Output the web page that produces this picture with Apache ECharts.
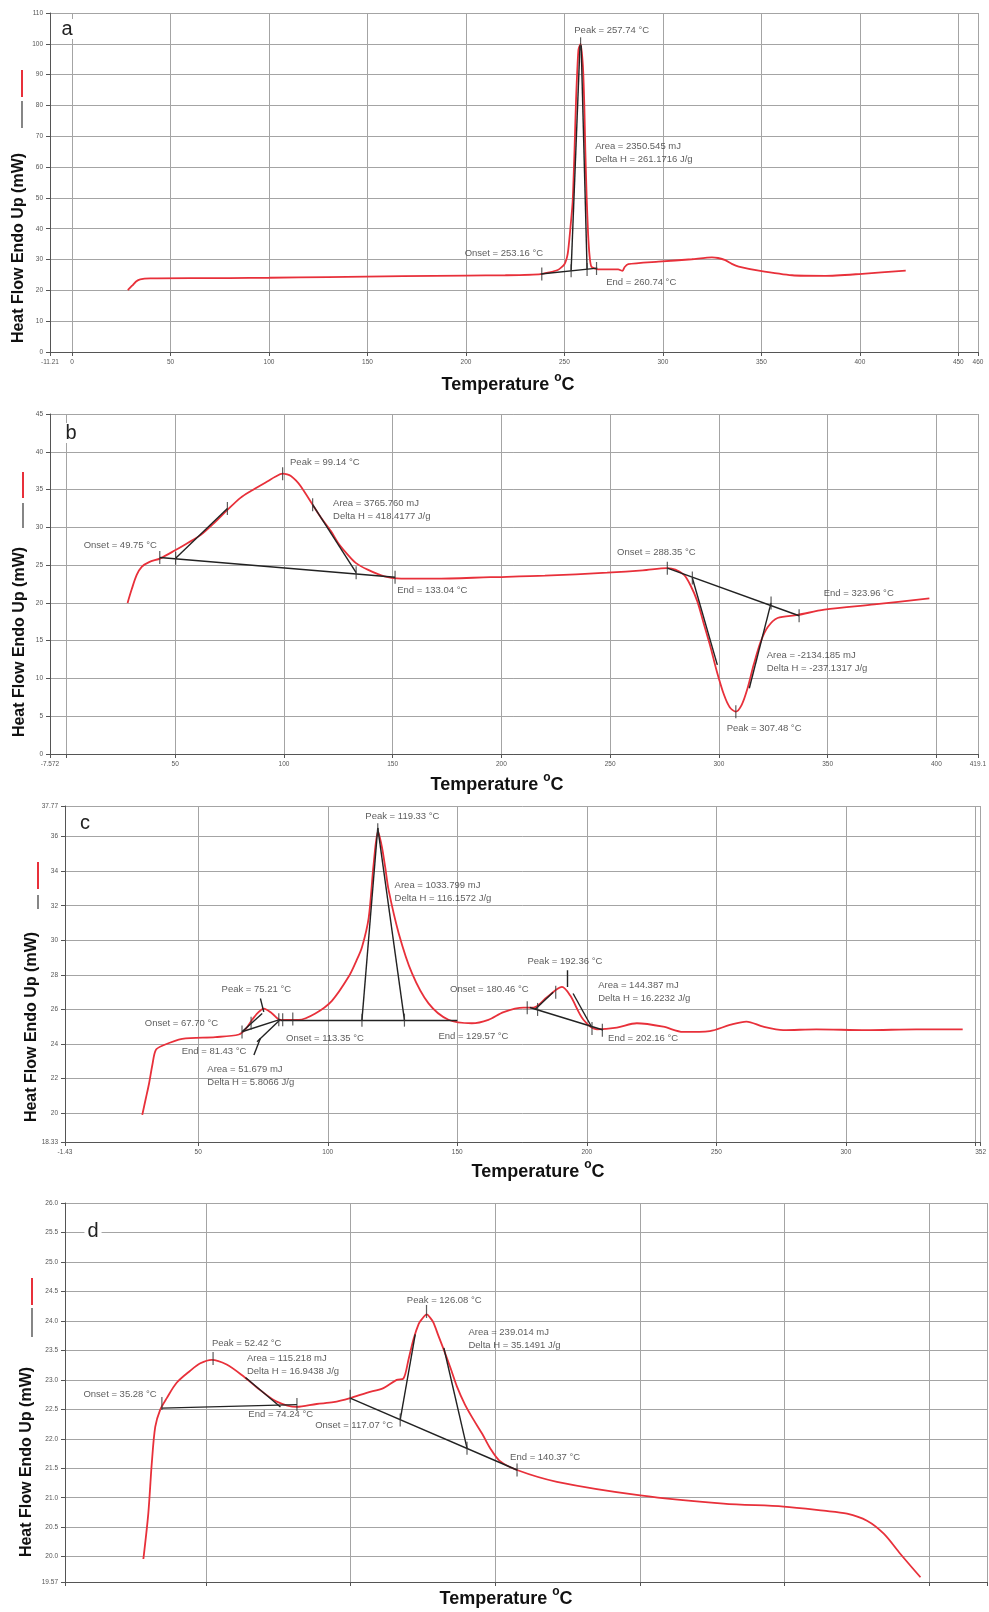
<!DOCTYPE html>
<html><head><meta charset="utf-8">
<script src="https://cdn.jsdelivr.net/npm/echarts@6/dist/echarts.min.js"></script>
<style>html,body{margin:0;padding:0;background:#fff}#c{width:989px;height:1612px}</style>
</head><body><div id="c"></div>
<script>
// ---------- Panel a ----------
const curveA = [[28.3,20.1],[30.5,21.5],[32.5,22.9],[34.6,23.6],[39.7,23.9],[60,24.0],[80,24.0],[100,24.1],[130,24.3],[168,24.6],[200,24.8],[220,24.9],[238,25.3],[246.6,26.6],[250,28.5],[251.7,32],[253,40],[254.2,49],[255.1,65],[255.9,81.8],[257.1,98],[258.2,100],[259.4,92.6],[260.1,80],[260.6,65.6],[261.3,50],[262,38.5],[262.8,31],[263.7,27.7],[267.1,26.8],[273,26.8],[277.3,26.8],[279.5,26.3],[280.5,27.5],[282.4,28.5],[297.7,29.3],[314.7,30.1],[324.9,30.7],[328,30.5],[331.7,29.8],[335,28.6],[338.5,27.7],[348.7,26.4],[365.6,24.9],[382.6,24.7],[399.6,25.3],[423.3,26.4]];
const constructA = [[238,25.3,266.7,27.2],[253.4,26.4,257.9,99.5],[258.5,99.5,261.5,26.8]];
const marksA = [[238.5,25.3],[253.4,26.4],[261.5,26.8],[266.3,27.1],[258.2,100]];
const notesA = [[255,104.5,'Peak = 257.74 °C','l'],[265.6,64.6,'Area = 2350.545 mJ\nDelta H = 261.1716 J/g','l'],[239.2,32.1,'Onset = 253.16 °C','r'],[271.2,22.7,'End = 260.74 °C','l']];
const xTicksA = [-11.21,0,50,100,150,200,250,300,350,400,450,460];
const xLabelsA = [-11.21,0,50,100,150,200,250,300,350,400,450,460];
const yTicksA = [0,10,20,30,40,50,60,70,80,90,100,110];

// ---------- Panel b ----------
const curveB = [[28.1,20.0],[30,21.8],[32.3,23.7],[34.7,24.8],[38,25.4],[43.2,25.9],[50.2,27.0],[55,27.8],[61.8,29.0],[68,30.6],[74,32.3],[80,33.9],[84.8,34.8],[92.5,36.1],[96,36.7],[99.4,37.1],[101.5,37.0],[103.2,36.8],[105.5,36.2],[107.8,35.4],[113.2,33.0],[117,31.3],[121.6,29.5],[125,27.9],[129.3,26.4],[133,25.3],[138.5,24.4],[146.2,23.5],[153.9,23.2],[169.2,23.2],[194.9,23.4],[220,23.6],[248.6,24.0],[265,24.3],[276.3,24.6],[280,24.4],[284,23.7],[287,22.3],[290.1,20.2],[293,17.3],[296.3,14.0],[299,11.0],[302.4,7.8],[305,6.2],[307.8,5.6],[310.5,6.5],[313.2,8.7],[316,11.8],[319.3,14.9],[322.5,16.8],[327,18.0],[336.2,18.4],[348.5,19.1],[371.5,19.8],[396.8,20.6]];
const constructB = [[42.9,26.0,151.1,23.4],[50.2,25.9,74.0,32.5],[113.2,33.0,133.2,24.0],[276.3,24.6,336.9,18.3],[287.8,23.3,299.3,11.8],[314,8.7,324,20.0]];
const marksB = [[42.9,26.0],[50.2,25.9],[74.0,32.5],[99.4,37.1],[113.2,33.0],[133.2,24.0],[151.1,23.4],[276.3,24.6],[287.8,23.3],[324,20.0],[336.9,18.3],[307.8,5.6]];
const notesB = [[102.8,38.55,'Peak = 99.14 °C','l'],[122.6,32.3,'Area = 3765.760 mJ\nDelta H = 418.4177 J/g','l'],[41.6,27.6,'Onset = 49.75 °C','r'],[152.1,21.7,'End = 133.04 °C','l'],[253.2,26.7,'Onset = 288.35 °C','l'],[348.2,21.2,'End = 323.96 °C','l'],[322,12.15,'Area = -2134.185 mJ\nDelta H = -237.1317 J/g','l'],[303.6,3.35,'Peak = 307.48 °C','l']];
const xTicksB = [-7.572,0,50,100,150,200,250,300,350,400,419.1];
const xLabelsB = [-7.572,50,100,150,200,250,300,350,400,419.1];
const yTicksB = [0,5,10,15,20,25,30,35,40,45];

// ---------- Panel c ----------
const curveC = [[28.4,19.9],[29.7,20.8],[31.0,21.7],[32.3,22.8],[33.6,23.65],[36.1,23.9],[43.8,24.3],[56.6,24.4],[65.7,24.55],[68.5,24.9],[70.8,25.4],[73,25.8],[75.3,26.05],[78.5,25.77],[81.7,25.4],[88.8,25.4],[95.2,25.77],[101.6,26.5],[108.1,27.9],[111,28.8],[113.2,29.6],[115.8,31.3],[117.7,34.4],[119.4,36.3],[120.9,35.4],[122.2,34.2],[123.5,32.9],[127.4,30.4],[132.5,28.1],[138.9,26.35],[146.6,25.4],[155.6,25.2],[162,25.4],[167.9,25.85],[175.6,26.1],[179.4,26.1],[184.6,26.7],[190.4,27.3],[193.6,26.8],[198.7,25.4],[203.9,24.85],[211.6,24.95],[219.3,25.2],[229.5,25.0],[237.2,24.7],[247.5,24.75],[255.2,25.1],[261.6,25.3],[268.1,25.0],[275.8,24.8],[288.6,24.85],[307.9,24.8],[327.1,24.85],[345.1,24.85]];
const constructC = [[66.9,24.71,81.7,25.42],[66.9,24.71,74.7,25.77],[72.7,24.13,81.7,25.42],[71.5,23.36,74.0,24.33],[74.0,26.63,75.3,25.86],[81.7,25.38,150,25.38],[113.2,25.38,119.3,36.5],[119.3,36.5,129.6,25.38],[178,26.11,206.3,24.81],[180,26.0,187,27.0],[192.4,28.27,192.4,27.3],[194.7,26.92,201.8,25.0]];
const marksC = [[66.9,24.7],[70.4,25.2],[81.1,25.4],[82.6,25.4],[86.5,25.45],[113.2,25.38],[119.3,36.4],[129.6,25.38],[177,26.1],[181,26.0],[188,27.0],[202,24.9],[206,24.8]];
const notesC = [[114.5,37.15,'Peak = 119.33 °C','l'],[125.8,32.83,'Area = 1033.799 mJ\nDelta H = 116.1572 J/g','l'],[59.0,27.15,'Peak = 75.21 °C','l'],[29.4,25.19,'Onset = 67.70 °C','l'],[43.6,23.55,'End = 81.43 °C','l'],[53.5,22.18,'Area = 51.679 mJ\nDelta H = 5.8066 J/g','l'],[83.9,24.33,'Onset = 113.35 °C','l'],[142.7,24.42,'End = 129.57 °C','l'],[147.2,27.15,'Onset = 180.46 °C','l'],[177.1,28.8,'Peak = 192.36 °C','l'],[204.4,27.02,'Area = 144.387 mJ\nDelta H = 16.2232 J/g','l'],[208.2,24.33,'End = 202.16 °C','l']];
const xTicksC = [-1.43,50,100,150,200,250,300,350,352];
const xLabelsC = [-1.43,50,100,150,200,250,300,352];
const yTicksC = [18.33,20,22,24,26,28,30,32,34,36,37.77];

// ---------- Panel d ----------
const curveD = [[28.3,19.96],[30.0,20.73],[31.2,21.58],[32.4,22.2],[34.1,22.49],[36.4,22.69],[39.8,22.95],[44.4,23.15],[48,23.28],[51.9,23.34],[57.1,23.26],[62.9,23.06],[68.6,22.83],[74.4,22.63],[81.3,22.54],[88.2,22.59],[94.0,22.62],[99.8,22.69],[105.5,22.78],[111.3,22.86],[115.9,23.0],[118.2,23.02],[120,23.35],[121.7,23.69],[123.5,23.95],[124.6,24.03],[126.3,24.11],[127.5,24.05],[128.6,23.97],[130.3,23.75],[132.1,23.52],[134.5,23.2],[136.7,22.89],[139.5,22.58],[142.5,22.32],[145.5,22.08],[148.2,21.84],[151.4,21.63],[157.5,21.47],[171.3,21.27],[200.1,21.04],[228.9,20.9],[249.7,20.85],[263.5,20.78],[271.6,20.73],[278.5,20.61],[284.3,20.39],[290,20.05],[297,19.65]];
const constructD = [[34.7,22.52,81.4,22.58],[63.6,23.04,75.7,22.54],[99.8,22.69,157.5,21.47],[117.1,22.32,122.3,23.77],[132.2,23.54,140.2,21.84]];
const marksD = [[34.7,22.6],[52.4,23.36],[81.4,22.58],[99.8,22.72],[117.1,22.32],[126.2,24.16],[140.2,21.84],[157.5,21.47]];
const notesD = [[32.9,22.75,'Onset = 35.28 °C','r'],[52.0,23.62,'Peak = 52.42 °C','l'],[64.1,23.26,'Area = 115.218 mJ\nDelta H = 16.9438 J/g','l'],[64.6,22.41,'End = 74.24 °C','l'],[87.7,22.22,'Onset = 117.07 °C','l'],[119.4,24.34,'Peak = 126.08 °C','l'],[140.7,23.69,'Area = 239.014 mJ\nDelta H = 35.1491 J/g','l'],[155.1,21.69,'End = 140.37 °C','l']];
const xTicksD = [1.2,50,100,150,200,250,300,320];
const yTicksD = [19.57,20,20.5,21,21.5,22,22.5,23,23.5,24,24.5,25,25.5,26];

const panelLetters = ['a','b','c','d'];
const yTitle = 'Heat Flow Endo Up (mW)';
const xTitle = 'Temperature ';

// ---------- build ----------
const FONT = '"Liberation Sans", Arial, sans-serif';
const RED = '#e8303a';
const GRIDC = '#a4a4a4';
const AXC = '#555';

const panels = [
  {curve:curveA, cons:constructA, marks:marksA, notes:notesA, xmin:-11.21, xmax:460, xt:xTicksA, xl:xLabelsA, ymin:0, ymax:110, yt:yTicksA, yfmt:v=>String(v), grid:{left:50, top:13, width:928, height:339}, smooth:0.2},
  {curve:curveB, cons:constructB, marks:marksB, notes:notesB, xmin:-7.572, xmax:419.1, xt:xTicksB, xl:xLabelsB, ymin:0, ymax:45, yt:yTicksB, yfmt:v=>String(v), grid:{left:50, top:414, width:928, height:340}, smooth:0.3},
  {curve:curveC, cons:constructC, marks:marksC, notes:notesC, xmin:-1.43, xmax:352, xt:xTicksC, xl:xLabelsC, ymin:18.33, ymax:37.77, yt:yTicksC, yfmt:v=>String(v), grid:{left:65, top:806, width:918, height:336}, smooth:0.3},
  {curve:curveD, cons:constructD, marks:marksD, notes:notesD, xmin:1.2, xmax:320, xt:xTicksD, xl:null, ymin:19.57, ymax:26, yt:yTicksD, yfmt:v=>(v===19.57?'19.57':v.toFixed(1)), grid:{left:65, top:1203, width:922, height:379}, smooth:0.3}
];

const grids=[], xAxes=[], yAxes=[], series=[];
panels.forEach((p,i)=>{
  grids.push(Object.assign({containLabel:false}, p.grid));
  xAxes.push({
    gridIndex:i, type:'value', min:p.xmin, max:p.xmax,
    axisLine:{onZero:false, lineStyle:{color:AXC, width:1}},
    axisTick:{show:true, customValues:p.xt, length:4, lineStyle:{color:AXC}},
    axisLabel: p.xl ? {show:true, customValues:p.xl, formatter:v=>String(v), fontSize:6.5, color:'#555', margin:7, fontFamily:FONT} : {show:false},
    splitLine:{show:true, lineStyle:{color:GRIDC, width:1}}
  });
  yAxes.push({
    gridIndex:i, type:'value', min:p.ymin, max:p.ymax,
    axisLine:{show:true, onZero:false, lineStyle:{color:AXC, width:1}},
    axisTick:{show:true, customValues:p.yt, length:4, lineStyle:{color:AXC}},
    axisLabel:{show:true, customValues:p.yt, formatter:p.yfmt, fontSize:6.5, color:'#555', margin:7, fontFamily:FONT},
    splitLine:{show:true, lineStyle:{color:GRIDC, width:1}}
  });
  series.push({
    type:'line', xAxisIndex:i, yAxisIndex:i, data:p.curve, showSymbol:false, symbol:'none',
    smooth:p.smooth, lineStyle:{color:RED, width:1.8}, z:3, silent:true
  });
  series.push({
    type:'lines', coordinateSystem:'cartesian2d', xAxisIndex:i, yAxisIndex:i,
    data:p.cons.map(s=>({coords:[[s[0],s[1]],[s[2],s[3]]]})),
    lineStyle:{color:'#222', width:1.4, opacity:1}, z:4, silent:true
  });
  series.push({
    type:'scatter', xAxisIndex:i, yAxisIndex:i, data:p.marks, symbol:'rect', symbolSize:[1.2,13],
    itemStyle:{color:'#333'}, z:5, silent:true
  });
  series.push({
    type:'scatter', xAxisIndex:i, yAxisIndex:i, symbolSize:0, z:6, silent:true,
    data:p.notes.map(n=>({value:[n[0],n[1]], label:{show:true, formatter:()=>n[2], align:n[3]==='r'?'right':'left'}})),
    label:{show:true, position:[0,0], verticalAlign:'middle', fontSize:9.5, color:'#333', lineHeight:13, fontFamily:FONT}
  });
});

const letterPos = [[67,29],[71,433],[85,823],[93,1231]];
const yTitlePos = [[19,248],[20,642],[32,1027],[27,1462]];
const legendPos = [[22,70,97,101,128],[23,472,498,503,528],[38,862,889,895,909],[32,1278,1305,1308,1337]];
const xTitlePos = [[508,383],[497,783],[538,1170],[506,1597]];

const graphic = [];
panelLetters.forEach((L,i)=>{
  graphic.push({type:'text', x:letterPos[i][0], y:letterPos[i][1], z:10,
    style:{text:L, font:'20px '+FONT, fill:'#222', align:'center', verticalAlign:'middle', backgroundColor:'#fff', padding:[0,3]}});
  graphic.push({type:'text', x:yTitlePos[i][0], y:yTitlePos[i][1], rotation:Math.PI/2, z:10,
    style:{text:yTitle, font:'bold 16px '+FONT, fill:'#111', align:'center', verticalAlign:'middle'}});
  const lg = legendPos[i];
  graphic.push({type:'line', z:10, shape:{x1:lg[0],y1:lg[1],x2:lg[0],y2:lg[2]}, style:{stroke:RED, lineWidth:2}});
  graphic.push({type:'line', z:10, shape:{x1:lg[0],y1:lg[3],x2:lg[0],y2:lg[4]}, style:{stroke:'#444', lineWidth:1.3}});
  graphic.push({type:'text', x:xTitlePos[i][0], y:xTitlePos[i][1], z:10,
    style:{text:'{t|'+xTitle+'}{s|o}{t|C}', align:'center', verticalAlign:'middle',
      rich:{t:{fontSize:18, fontWeight:'bold', fontFamily:FONT, fill:'#111', lineHeight:22, verticalAlign:'bottom'},
            s:{fontSize:12, fontWeight:'bold', fontFamily:FONT, fill:'#111', lineHeight:22, verticalAlign:'top'}}}});
});

const chart = echarts.init(document.getElementById('c'), null, {renderer:'canvas', width:989, height:1612});
chart.setOption({
  animation:false,
  backgroundColor:'#ffffff',
  grid:grids, xAxis:xAxes, yAxis:yAxes, series:series, graphic:graphic
});
</script>
</body></html>
